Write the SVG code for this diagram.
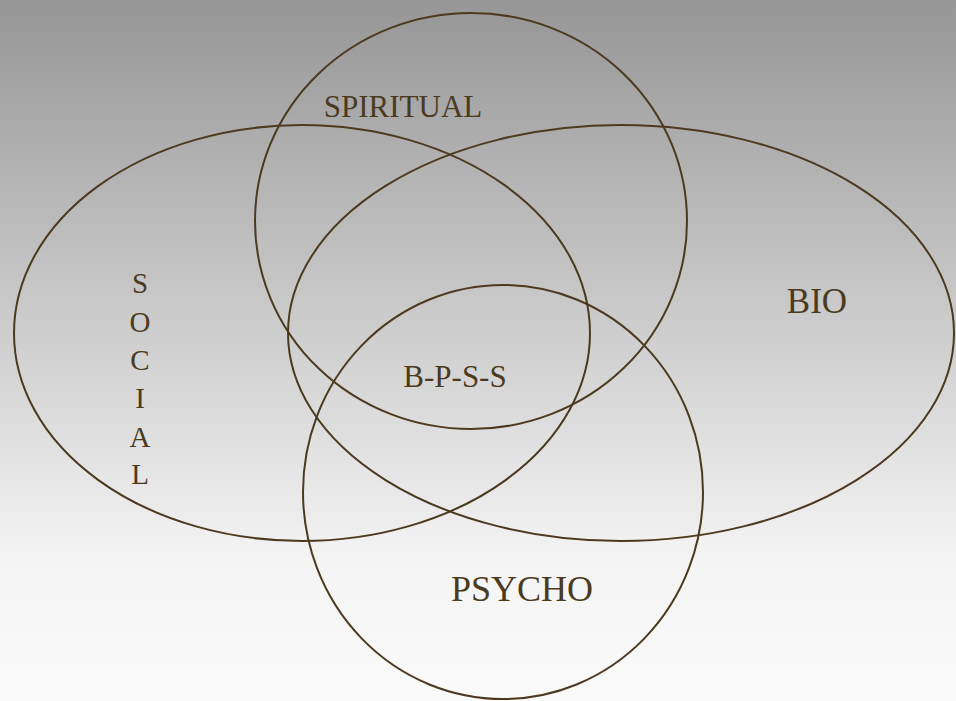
<svg xmlns="http://www.w3.org/2000/svg" width="956" height="701" viewBox="0 0 956 701">
<defs>
<linearGradient id="bg" x1="0" y1="0" x2="0" y2="1">
<stop offset="0" stop-color="#969696"/>
<stop offset="0.8" stop-color="#f4f4f4"/>
<stop offset="1" stop-color="#fafafa"/>
</linearGradient>
<style>
.c{fill:none;stroke:#4b3a1e;stroke-width:2}
.t{font-family:"Liberation Serif","Times New Roman",serif;fill:#4b3a1e;text-anchor:middle}
</style>
</defs>
<rect width="956" height="701" fill="url(#bg)"/>
<g id="connectors"></g>
<g id="spiritual"><ellipse class="c" cx="471" cy="221" rx="216" ry="208"/><text class="t" x="403" y="117" font-size="31">SPIRITUAL</text></g>
<g id="social"><ellipse class="c" cx="302" cy="333" rx="288" ry="208"/>
<text class="t" font-size="29"><tspan x="140" y="293">S</tspan><tspan x="140" y="332">O</tspan><tspan x="140" y="370">C</tspan><tspan x="140" y="408">I</tspan><tspan x="140" y="447">A</tspan><tspan x="140" y="484">L</tspan></text></g>
<g id="bio"><ellipse class="c" cx="621" cy="333" rx="333" ry="208"/><text class="t" x="817" y="313" font-size="35">BIO</text></g>
<g id="psycho"><ellipse class="c" cx="503" cy="492" rx="200" ry="207"/><text class="t" x="522" y="601" font-size="36">PSYCHO</text></g>
<g id="bpss"><text class="t" x="455" y="387" font-size="31">B-P-S-S</text></g>
</svg>
